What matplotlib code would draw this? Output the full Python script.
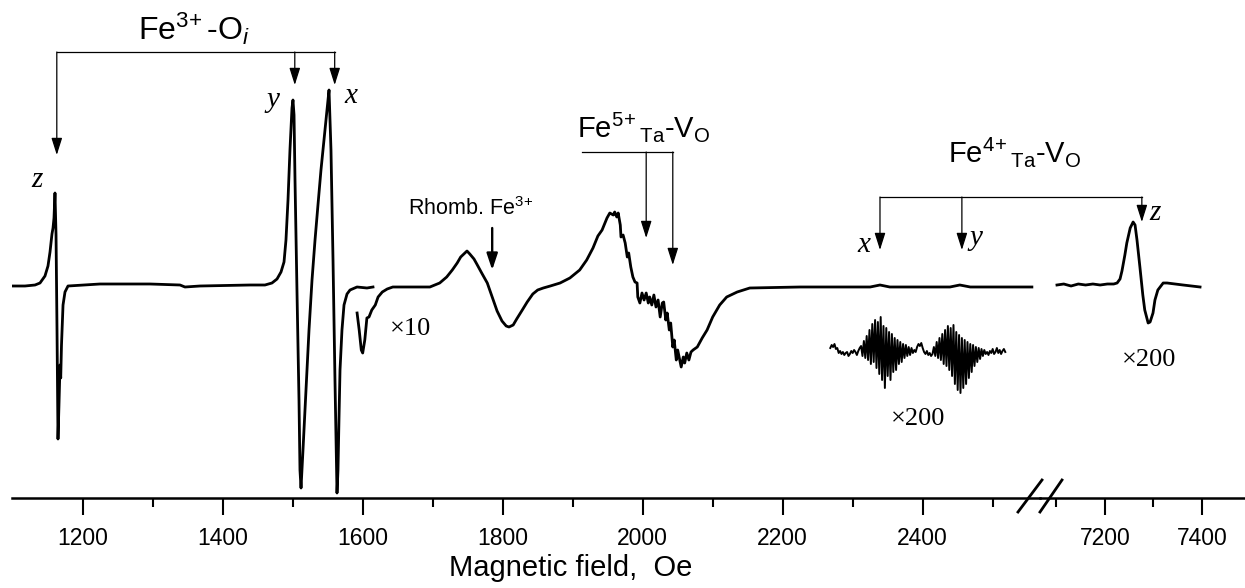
import numpy as np
import matplotlib
matplotlib.use('Agg')
import matplotlib.pyplot as plt
from matplotlib.lines import Line2D
from matplotlib.patches import FancyArrowPatch, ArrowStyle

plt.rcParams['font.family'] = ['Liberation Sans', 'DejaVu Sans']
plt.rcParams['mathtext.fontset'] = 'custom'
plt.rcParams['mathtext.rm'] = 'Liberation Sans'
plt.rcParams['mathtext.it'] = 'Liberation Sans:italic'
plt.rcParams['mathtext.bf'] = 'Liberation Sans:bold'

# ---------------- data (field in Oe, signal in arbitrary units) ----------------
main_field = [1099, 1117.6, 1131.9, 1139, 1146.1, 1150.4, 1153.3, 1156.1, 1157.6, 1159,
              1160.4, 1161.9, 1163.3, 1164.7, 1166.1, 1167.6, 1168.6, 1169.7, 1171.9, 1174.7,
              1179, 1224.7, 1296.1, 1339, 1346.1, 1367.6, 1439, 1460.4, 1470.4, 1477.6,
              1483.3, 1487.6, 1490.4, 1493.3, 1496.1, 1499, 1500.4, 1501.9, 1503.3, 1506.1,
              1509, 1510.4, 1511.9, 1514.7, 1519, 1523.3, 1527.6, 1531.9, 1536.1, 1540.4,
              1544.7, 1549, 1551.9, 1554.7, 1557.6, 1560.4, 1563.3, 1564.7, 1566.1, 1567.6,
              1570.4, 1573.3, 1577.6, 1581.9, 1591.9, 1606.1, 1614.7]
main_signal = [0, 0, 1, 3, 10, 20, 34, 52, 58, 68,
               93, 51, -44, -153, -119, -79, -92, -59, -19, -6,
               0, 2, 2, 1, -1, 0, 1, 1, 3, 7,
               14, 24, 46, 86, 136, 178, 186, 171, 106, -4,
               -114, -184, -202, -164, -104, -44, 6, 46, 81, 116,
               146, 176, 196, 136, 26, -94, -207, -184, -134, -84,
               -44, -19, -8, -4, -1, -2, -1]

x10_field = [1592, 1595, 1598, 1600, 1603, 1606, 1609, 1613, 1618, 1622,
             1628, 1635, 1643, 1663, 1682, 1696, 1710, 1720, 1728, 1735,
             1740, 1746, 1749, 1753, 1759, 1763, 1770, 1778, 1785, 1792,
             1799, 1805, 1809, 1815, 1820, 1828, 1835, 1843, 1850, 1858,
             1868, 1882, 1896, 1910, 1920, 1929, 1936, 1942, 1949, 1953,
             1958, 1960, 1963, 1965, 1968, 1969, 1972, 1975, 1978, 1980,
             1983, 1986, 1989, 1992, 1993, 1996, 1999, 2002, 2005, 2008,
             2010, 2013, 2016, 2019, 2022, 2025, 2028, 2030, 2033, 2035,
             2038, 2040, 2043, 2045, 2048, 2050, 2055, 2058, 2060, 2063,
             2066, 2069, 2072, 2078, 2085, 2092, 2100, 2110, 2120, 2135,
             2153, 2225, 2325, 2339, 2353, 2439, 2453, 2468, 2556]
x10_signal = [-27, -44, -64, -67, -54, -32, -31, -24, -19, -11,
              -6, -3, -1, -1, -1, -1, 3, 9, 16, 23,
              29, 33, 35, 32, 27, 22, 13, 3, -11, -25,
              -35, -40, -41, -39, -33, -24, -16, -8, -4, -2,
              0, 3, 8, 16, 26, 38, 50, 56, 68, 73,
              71, 74, 69, 73, 61, 49, 51, 43, 29, 33,
              19, 9, 4, 3, -11, -17, -7, -14, -7, -17,
              -11, -19, -9, -21, -14, -31, -17, -16, -34, -27,
              -44, -37, -61, -54, -74, -64, -81, -71, -77, -67,
              -74, -66, -64, -61, -52, -44, -31, -19, -11, -6,
              -2, -1, -1, 1, -1, -1, 1, -1, -1]

# x200 sweep 2268..2518 Oe, 2 Oe per point
x200_start, x200_step = 2268, 2
x200_signal = [2, 5, 3, 6, 1, 2, -3, -1, -4, -2, -5, -3, -2, -6, -4, -1, -3, 0, -2, -5, -1, 2,
               4, -6, 9, -8, 14, -10, 20, -14, 26, -12, 30, -18, 28, -24, 33, -30, 24, -38, 22,
               -26, 18, -30, 16, -22, 12, -20, 10, -14, 8, -12, 6, -8, 5, -6, 3, -5, 2,
               -3, 0, -2, 3, 6, 4, 7, 2, -2, -4, -1, -5, -3, -6, -4,
               3, -6, 8, -8, 12, -10, 16, -14, 20, -16, 24, -20, 22, -26, 25, -34, 18, -40, 15,
               -43, 12, -38, 10, -34, 8, -28, 6, -22, 5, -16, 3, -12, 2, -9, 1, -6, 0, -4,
               -2, -5, -1, -3, 1, -4, -2, 2, -3, 0, -4, -1, 1, -2]

right_field = [7101, 7115, 7130, 7145, 7160, 7175, 7190, 7205, 7218, 7225,
               7231, 7235, 7241, 7245, 7252, 7258, 7262, 7266, 7272, 7278,
               7282, 7289, 7293, 7299, 7303, 7309, 7320, 7328, 7361, 7396]
right_signal = [1, 2, 0, 2, 1, 2, 1, 2, 2, 3,
                7, 15, 31, 43, 58, 64, 61, 46, 19, -9,
                -24, -37, -36, -27, -14, -4, 3, 3, 1, -1]

left_major = [1200, 1400, 1600, 1800, 2000, 2200, 2400]
left_minor = [1300, 1500, 1700, 1900, 2100, 2300, 2500]
right_major = [7200, 7400]
right_minor = [7100, 7300]

# line positions (Oe) of the marked transitions
fe3_oi_fields = [1163, 1503, 1560]
fe5_fields = [2005, 2043]
rhomb_field = 1785
fe4_fields_low = [2339, 2456]
fe4_field_z = 7276

# ---------------- figure ----------------
W, H = 1245, 588
fig = plt.figure(figsize=(W / 100, H / 100), dpi=100)
axL = fig.add_axes([12 / W, 90 / H, 1028 / W, 498 / H])
axR = fig.add_axes([1040 / W, 90 / H, 205 / W, 498 / H])

ylim = (-212, 286)
for ax, lims in ((axL, (1099, 2567.6)), (axR, (7066, 7488.7))):
    ax.set_xlim(*lims)
    ax.set_ylim(*ylim)
    ax.patch.set_alpha(0)
    for s in ('top', 'left', 'right'):
        ax.spines[s].set_visible(False)
    ax.spines['bottom'].set_linewidth(1.8)
    ax.set_yticks([])
    ax.tick_params(axis='x', which='major', length=12, width=1.5, direction='out',
                   pad=9, labelsize=16.5)
    ax.tick_params(axis='x', which='minor', length=6.5, width=1.5, direction='out')

axL.set_xticks(left_major)
axL.set_xticks(left_minor, minor=True)
axL.set_xticklabels([str(v) for v in left_major])
axR.set_xticks(right_major)
axR.set_xticks(right_minor, minor=True)
axR.set_xticklabels([str(v) for v in right_major])

lc = 'black'
axL.plot(main_field, main_signal, color=lc, lw=2.0, solid_joinstyle='round')
axL.plot(x10_field, x10_signal, color=lc, lw=2.0, solid_joinstyle='round')
x200_field = x200_start + x200_step * np.arange(len(x200_signal))
axL.plot(x200_field, np.array(x200_signal) - 64, color=lc, lw=1.4)
axR.plot(right_field, right_signal, color=lc, lw=2.0, solid_joinstyle='round')


def px(x, y):
    return (x / W, 1 - y / H)


# break marks
for (x0, y0, x1, y1) in ((1018, 512, 1042, 480), (1040, 512, 1062, 480)):
    a, b = px(x0, y0)
    c, d = px(x1, y1)
    fig.add_artist(Line2D([a, c], [b, d], transform=fig.transFigure, color=lc, lw=2.0))

inv = fig.transFigure.inverted()


def fpt(ax, x, y):
    return tuple(inv.transform(ax.transData.transform((x, y))))


def arrow(ax, field, y0, y1, lw=0.9, hl=0.95, hw=0.3):
    p0 = fpt(ax, field, y0)
    p1 = fpt(ax, field, y1)
    fig.add_artist(FancyArrowPatch(p0, p1, transform=fig.transFigure,
                                   arrowstyle=ArrowStyle('-|>', head_length=hl, head_width=hw),
                                   mutation_scale=11, lw=lw, color=lc,
                                   shrinkA=0, shrinkB=0))


def hline(ax0, f0, ax1, f1, y, lw=0.9):
    p0 = fpt(ax0, f0, y)
    p1 = fpt(ax1, f1, y)
    fig.add_artist(Line2D([p0[0], p1[0]], [p0[1], p1[1]], transform=fig.transFigure,
                          color=lc, lw=lw))


# Fe3+-Oi bracket
hline(axL, fe3_oi_fields[0], axL, fe3_oi_fields[2], 234)
arrow(axL, fe3_oi_fields[0], 234, 131)
arrow(axL, fe3_oi_fields[1], 234, 201)
arrow(axL, fe3_oi_fields[2], 234, 201)

# Fe5+ bracket
hline(axL, 1913, axL, fe5_fields[1], 134)
arrow(axL, fe5_fields[0], 134, 48)
arrow(axL, fe5_fields[1], 134, 21)

# Rhombic Fe3+ arrow
arrow(axL, rhomb_field, 58, 16, lw=1.7, hl=0.9, hw=0.3)

# Fe4+ bracket
hline(axL, fe4_fields_low[0], axR, fe4_field_z, 89)
arrow(axL, fe4_fields_low[0], 89, 36)
arrow(axL, fe4_fields_low[1], 89, 36)
arrow(axR, fe4_field_z, 89, 64)

# labels
fig.text(*px(138, 40), r'Fe$^{3\!+}$-O$_{\mathit{i}}$', fontsize=23, ha='left', va='baseline')
fig.text(*px(577, 137), r'Fe$^{5\!+}{}_{\mathrm{Ta}}$-V$_{\mathrm{O}}$', fontsize=21,
         ha='left', va='baseline')
fig.text(*px(948, 162), r'Fe$^{4\!+}{}_{\mathrm{Ta}}$-V$_{\mathrm{O}}$', fontsize=21,
         ha='left', va='baseline')
fig.text(*px(408, 215), r'Rhomb. Fe$^{3\!+}$', fontsize=15.5, ha='left', va='baseline')

serif = ['Liberation Serif', 'DejaVu Serif']
for (t, x, y) in (('z', 37, 180), ('y', 273, 100), ('x', 351, 96),
                  ('x', 864, 245), ('y', 976, 238), ('z', 1155, 213)):
    fig.text(*px(x, y), t, family=serif, style='italic', fontsize=21, ha='center', va='center')

for (t, x, y) in (('×10', 411, 329), ('×200', 918, 419), ('×200', 1149, 360)):
    fig.text(*px(x, y), t, family=serif, fontsize=19, ha='center', va='center')

fig.text(*px(571, 568), 'Magnetic field,  Oe', fontsize=21, ha='center', va='center')

fig.savefig('out.png', dpi=100)
